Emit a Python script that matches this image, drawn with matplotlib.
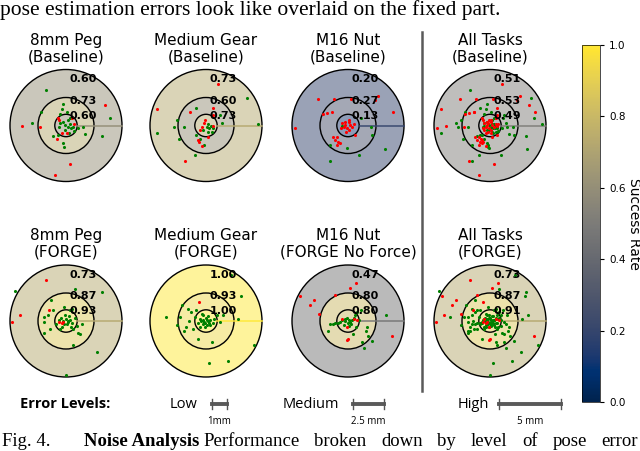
import numpy as np
import matplotlib
matplotlib.use("Agg")
import matplotlib.pyplot as plt
from matplotlib.patches import Circle
from matplotlib.lines import Line2D
from matplotlib.cm import ScalarMappable
from matplotlib.colors import Normalize, to_rgba

# ---- data ----
tasks = ["8mm Peg", "Medium Gear", "M16 Nut", "All Tasks"]
methods_top = ["Baseline", "Baseline", "Baseline", "Baseline"]
methods_bottom = ["FORGE", "FORGE", "FORGE No Force", "FORGE"]
levels = ["Low", "Medium", "High"]
level_sizes = ["1mm", "2.5 mm", "5 mm"]
ring_radius = [0.2, 0.5, 1.0]          # low, medium, high (fraction of 5 mm)

# success rate per level (low, medium, high)
base_rates = [[0.60, 0.73, 0.60], [0.73, 0.60, 0.73], [0.13, 0.27, 0.20], [0.49, 0.53, 0.51]]
forge_rates = [[0.93, 0.87, 0.73], [1.00, 0.93, 1.00], [0.80, 0.80, 0.47], [0.91, 0.87, 0.73]]

# pose error samples (x, y) as fraction of 5 mm, successes and failures
peg_base_ok = [(-0.36, 0.63), (0.79, 0.13), (-0.60, 0.04), (-0.45, 0.24), (-0.05, 0.39), (-0.08, 0.30),
               (-0.11, 0.21), (0.01, 0.24), (0.07, 0.14), (-0.06, 0.06), (-0.02, 0.01), (0.03, -0.02),
               (0.07, 0.02), (0.09, -0.05), (0.12, -0.02), (-0.01, -0.08), (0.22, -0.04), (0.30, -0.02),
               (-0.23, -0.18), (-0.14, -0.17), (-0.05, -0.32), (-0.03, -0.39), (0.34, -0.16), (0.64, -0.19),
               (-0.10, 0.05), (0.03, 0.09), (0.15, -0.09), (0.05, -0.13), (-0.12, -0.02)]
peg_base_fail = [(0.70, 0.36), (-0.79, -0.01), (-0.46, -0.02), (-0.15, 0.13), (-0.12, 0.09), (0.11, 0.14),
                 (0.15, 0.02), (-0.08, -0.14), (-0.16, -0.24), (0.07, -0.68), (-0.20, -0.89), (0.02, -0.13)]
gear_base_ok = [(0.73, 0.50), (-0.17, 0.32), (0.25, 0.18), (0.92, 0.02), (0.28, 0.04), (-0.58, -0.02),
                (-0.52, 0.10), (-0.39, -0.02), (0.01, -0.02), (0.06, -0.05), (0.13, -0.05), (0.04, -0.11),
                (0.09, 0.00), (-0.17, -0.17), (-0.11, -0.24), (-0.04, -0.34), (-0.49, -0.24), (-0.87, -0.14),
                (-0.20, -0.53), (0.03, 0.03), (-0.05, -0.08), (0.11, -0.12)]
gear_base_fail = [(0.22, 0.75), (-0.88, 0.30), (0.12, 0.32), (-0.29, 0.24), (0.12, 0.19), (-0.02, 0.10),
                  (-0.04, 0.04), (-0.08, -0.02), (-0.11, -0.08), (0.13, 0.00), (0.04, -0.20), (-0.14, -0.26),
                  (-0.12, -0.30), (-0.07, -0.36), (-0.375, -0.64)]
nut_base_ok = [(0.23, 0.14), (-0.10, 0.00), (0.41, -0.02), (0.43, -0.17), (-0.32, -0.34), (-0.02, -0.41),
               (0.20, -0.53), (0.66, -0.42), (-0.32, -0.63)]
nut_base_fail = [(-0.54, 0.48), (-0.25, 0.47), (0.05, 0.48), (0.54, 0.52), (0.48, 0.45), (-0.29, 0.24),
                 (-0.37, 0.23), (-0.44, 0.21), (0.80, 0.24), (-0.95, -0.05), (-0.11, 0.04), (-0.05, 0.01),
                 (0.01, 0.07), (0.04, 0.01), (-0.02, -0.05), (-0.08, -0.02), (0.07, -0.02), (-0.04, -0.11),
                 (0.01, 0.10), (0.10, 0.03), (-0.06, 0.06), (0.125, -0.17), (-0.26, -0.20), (-0.20, -0.20),
                 (-0.23, -0.26), (-0.17, -0.29), (-0.14, -0.32), (-0.20, -0.34), (0.02, -0.08), (-0.13, -0.05)]

peg_forge_ok = [(0.155, 0.58), (0.65, 0.52), (-0.91, 0.53), (-0.27, 0.38), (-0.04, 0.25), (0.08, 0.20),
                (0.11, 0.22), (-0.40, 0.07), (-0.39, -0.02), (-0.33, 0.10), (-0.12, 0.02), (-0.06, 0.00),
                (0.00, 0.03), (0.04, -0.02), (0.08, 0.01), (0.11, -0.03), (-0.03, -0.05), (0.02, -0.06),
                (-0.29, -0.15), (-0.40, -0.21), (-0.11, -0.14), (0.13, -0.15), (0.21, -0.21), (0.25, -0.24),
                (0.13, -0.43), (0.56, -0.55), (0.00, -0.97), (0.28, -0.05), (-0.18, -0.06), (0.06, 0.09),
                (-0.02, 0.11), (0.16, 0.06), (-0.23, 0.20), (0.09, -0.10), (-0.07, -0.10), (0.19, -0.09),
                (0.03, 0.00), (-0.09, 0.06)]
peg_forge_fail = [(-0.35, 0.74), (-0.30, 0.19), (-0.83, 0.10), (-0.96, -0.02), (-0.05, -0.01),
                  (-0.08, -0.04), (-0.12, -0.02)]
gear_forge_ok = [(0.44, 0.82), (0.62, 0.44), (-0.43, 0.28), (-0.32, 0.22), (-0.26, 0.16), (-0.17, 0.19),
                 (-0.05, 0.10), (-0.72, 0.08), (-0.46, 0.07), (-0.20, 0.07), (-0.11, 0.04), (-0.05, 0.02),
                 (0.01, 0.02), (0.04, 0.00), (-0.02, -0.04), (0.07, 0.01), (0.02, -0.07), (-0.06, -0.05),
                 (0.58, 0.04), (-0.52, -0.07), (-0.40, -0.17), (-0.23, -0.14), (-0.11, -0.11), (-0.14, -0.33),
                 (0.10, -0.375), (0.86, -0.43), (0.05, -0.75), (0.39, -0.71), (0.19, 0.10), (0.25, -0.02),
                 (-0.30, 0.00), (0.00, 0.06), (0.05, -0.03), (-0.09, 0.00), (0.30, 0.10), (-0.35, -0.10),
                 (0.03, 0.09), (0.12, -0.04), (-0.15, -0.03), (0.08, -0.08), (-0.01, -0.10), (0.14, 0.04),
                 (-0.08, 0.12), (-0.04, -0.01)]
gear_forge_fail = [(-0.12, 0.34)]
nut_forge_ok = [(0.24, 0.19), (0.16, 0.16), (0.67, 0.10), (-0.32, -0.06), (-0.26, -0.05), (-0.23, -0.04),
                (-0.15, -0.02), (-0.11, 0.01), (-0.05, 0.00), (0.01, 0.02), (0.04, -0.02), (0.07, 0.01),
                (0.05, -0.05), (-0.35, -0.17), (0.15, -0.10), (0.34, -0.10), (0.33, -0.18), (0.09, -0.23),
                (0.35, -0.26), (0.25, -0.38), (0.43, -0.36), (0.28, -0.48), (-0.02, 0.05), (-0.08, -0.07),
                (0.02, -0.09), (-0.05, 0.04), (0.10, 0.05), (0.00, -0.04), (-0.18, -0.04), (0.12, 0.10),
                (0.20, 0.02)]
nut_forge_fail = [(0.15, 0.67), (0.03, 0.59), (-0.85, 0.45), (-0.61, 0.37), (-0.68, 0.29), (-0.24, 0.47),
                  (-0.52, 0.13), (-0.11, 0.04), (0.11, 0.04), (0.16, 0.02), (-0.02, -0.11), (0.00, -0.33),
                  (0.79, -0.27), (-0.01, -0.34)]

top_ok = [peg_base_ok, gear_base_ok, nut_base_ok]
top_fail = [peg_base_fail, gear_base_fail, nut_base_fail]
bot_ok = [peg_forge_ok, gear_forge_ok, nut_forge_ok]
bot_fail = [peg_forge_fail, gear_forge_fail, nut_forge_fail]
# "All Tasks" pools the three tasks
top_ok.append(sum(top_ok, []))
top_fail.append(sum(top_fail, []))
bot_ok.append(sum(bot_ok, []))
bot_fail.append(sum(bot_fail, []))

top_line = "pose estimation errors look like overlaid on the fixed part."
caption_words = ["Performance", "broken", "down", "by", "level", "of", "pose", "error"]

# ---- layout (pixels) ----
W, H = 640, 451
col_x = [66, 206, 348, 490]
row_y = [125.5, 321]
title_y = [49, 244]
R = 56
cmap = plt.get_cmap("cividis")


def fx(x):
    return x / W


def fy(y):
    return 1 - y / H


def soft(c, a=0.5):
    r, g, b, _ = to_rgba(c)
    return (a * r + 1 - a, a * g + 1 - a, a * b + 1 - a)


fig = plt.figure(figsize=(6.4, 4.51), dpi=100)
renderer = fig.canvas.get_renderer()

lim = 1.06
S = 2 * lim * R
for row in range(2):
    rates_row = base_rates if row == 0 else forge_rates
    methods = methods_top if row == 0 else methods_bottom
    oks = top_ok if row == 0 else bot_ok
    fails = top_fail if row == 0 else bot_fail
    for col in range(4):
        cx, cy = col_x[col], row_y[row]
        ax = fig.add_axes([fx(cx - S / 2), fy(cy + S / 2), S / W, S / H])
        ax.set_xlim(-lim, lim)
        ax.set_ylim(-lim, lim)
        ax.set_aspect("equal")
        ax.axis("off")
        rates = rates_row[col]
        for r, v in sorted(zip(ring_radius, rates), reverse=True):
            ax.add_patch(Circle((0, 0), r, fc=soft(cmap(v)), ec="black", lw=1.0, zorder=1))
        ax.plot([ring_radius[0], ring_radius[2]], [0, 0], color=cmap(rates[2]), lw=1.3, alpha=0.8, zorder=2)
        ok = np.array(oks[col])
        bad = np.array(fails[col])
        ax.scatter(ok[:, 0], ok[:, 1], s=5, color="green", linewidths=0, zorder=3)
        ax.scatter(bad[:, 0], bad[:, 1], s=5, color="red", linewidths=0, zorder=3)
        for ty, v in zip([0.17, 0.44, 0.83], rates):
            ax.text(0.07, ty, f"{v:.2f}", fontsize=8, fontweight="bold", ha="left", va="center", zorder=4)
        fig.text(fx(cx), fy(title_y[row]), f"{tasks[col]}\n({methods[col]})",
                 ha="center", va="center", fontsize=11, linespacing=1.15)

# separator between single tasks and the pooled column
fig.add_artist(Line2D([fx(421.7)] * 2, [fy(32), fy(391)], color="#5a5a5a", lw=1.8))

# colorbar
cax = fig.add_axes([fx(582), fy(402), 18 / W, 357 / H])
cb = fig.colorbar(ScalarMappable(Normalize(0, 1), cmap), cax=cax)
cb.set_ticks([0, 0.2, 0.4, 0.6, 0.8, 1.0])
cb.ax.tick_params(labelsize=7.5, length=3)
cb.outline.set_linewidth(0.5)
cb.set_label("Success Rate", rotation=270, fontsize=10, labelpad=11)

# error level legend
sans = "Open Sans"
fig.text(fx(20), fy(404), "Error Levels:", fontsize=10.5, fontweight="bold", family=sans, va="center")
level_text_x = [170, 283, 458]
bar_x = [(212, 227), (353, 384), (499, 561)]
for name, size, tx, (x0, x1) in zip(levels, level_sizes, level_text_x, bar_x):
    fig.text(fx(tx), fy(404), name, fontsize=10.5, family=sans, va="center")
    fig.add_artist(Line2D([fx(x0), fx(x1)], [fy(404)] * 2, color="#5a5a5a", lw=2.8))
    for xe in (x0, x1):
        fig.add_artist(Line2D([fx(xe)] * 2, [fy(399), fy(409)], color="#555555", lw=1.0))
    fig.text(fx((x0 + x1) / 2), fy(421), size, fontsize=7, family=sans, ha="center", va="center")

# surrounding paper text
serif = "Liberation Serif"
fig.text(fx(0), fy(15), top_line, family=serif, fontsize=15.5, va="baseline")
cap_y = 446
cap_size = 13.5
fig.text(fx(2), fy(cap_y), "Fig. 4.", family=serif, fontsize=cap_size, va="baseline")
bold = fig.text(fx(84), fy(cap_y), "Noise Analysis", family=serif, fontsize=cap_size,
                fontweight="bold", va="baseline")
x = 84 + bold.get_window_extent(renderer).width + 4
widths = []
items = []
for w in caption_words:
    t = fig.text(0, fy(cap_y), w, family=serif, fontsize=cap_size, va="baseline")
    items.append(t)
    widths.append(t.get_window_extent(renderer).width)
gap = (638 - x - sum(widths)) / (len(caption_words) - 1)
for t, wd in zip(items, widths):
    t.set_x(fx(x))
    x += wd + gap

fig.savefig("out.png", dpi=100)
